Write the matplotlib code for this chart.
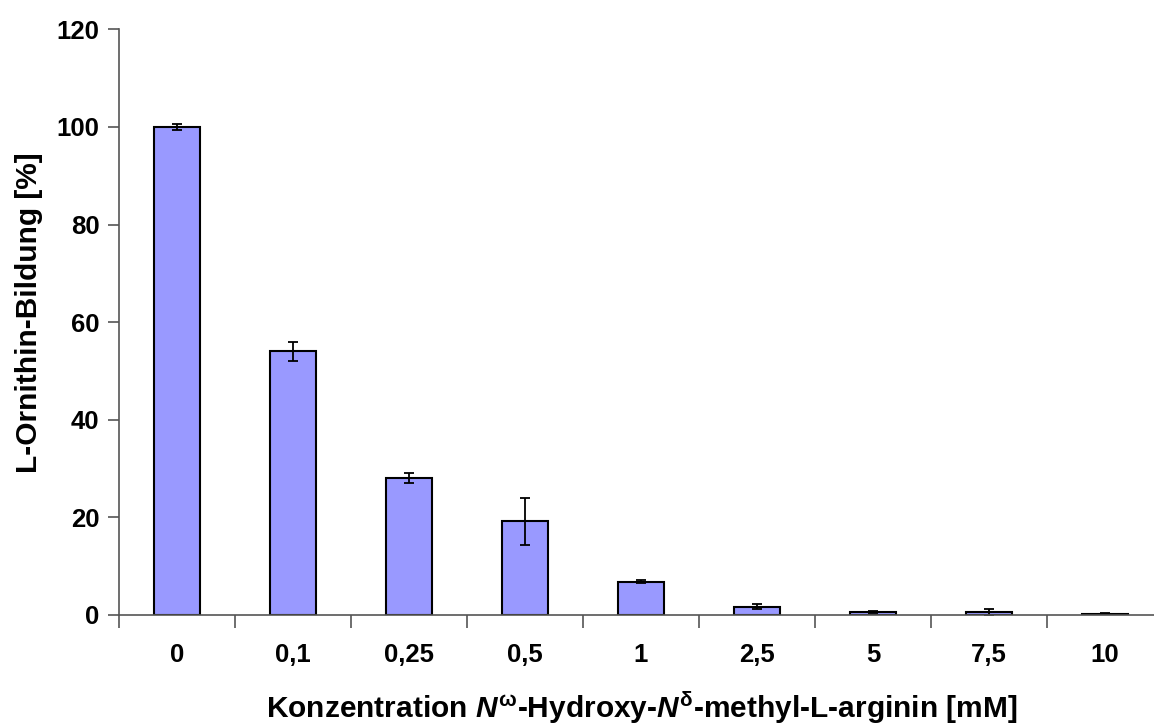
import numpy as np
import matplotlib.pyplot as plt

plt.rcParams['font.family'] = ['Liberation Sans', 'DejaVu Sans']
plt.rcParams['font.weight'] = 'bold'
plt.rcParams['mathtext.fontset'] = 'custom'
plt.rcParams['mathtext.it'] = 'Liberation Sans:italic:bold'
plt.rcParams['mathtext.bf'] = 'Liberation Sans:bold'
plt.rcParams['mathtext.rm'] = 'Liberation Sans:bold'

# concentrations [mM] and relative L-ornithine formation [%]
labels = ['0', '0,1', '0,25', '0,5', '1', '2,5', '5', '7,5', '10']
values = [100, 54, 28, 19.2, 6.8, 1.7, 0.65, 0.6, 0.3]
errors = [0.7, 2.0, 1.0, 4.85, 0.3, 0.5, 0.2, 0.7, 0.1]

fig = plt.figure(figsize=(11.54, 7.25), dpi=100)
# axes box in pixels: left 119, right 1163 (clipped by figure), bottom 615, top 29
W, H = 1154, 725
ax = fig.add_axes([119 / W, (H - 615) / H, (1163 - 119) / W, (615 - 29.4) / H])

x = np.arange(len(labels))
ax.bar(x, values, width=0.4, color='#9999FF', edgecolor='black', linewidth=1.5,
       yerr=errors, capsize=3.5, error_kw=dict(ecolor='black', elinewidth=1.3, capthick=1.3),
       zorder=2)

ax.set_xlim(-0.5, len(labels) - 0.5)
ax.set_ylim(0, 120)
ax.set_yticks(np.arange(0, 121, 20))

# ticks between categories, labels centred on categories
ax.set_xticks(np.arange(-0.5, len(labels), 1.0))
ax.set_xticklabels([])
ax.set_xticks(x, minor=True)
ax.set_xticklabels(labels, minor=True)
ax.tick_params(axis='x', which='major', length=9, width=1.2, color='#555555', direction='out')
ax.tick_params(axis='x', which='minor', length=0, pad=20, labelsize=18.5)
ax.tick_params(axis='y', length=8, width=1.2, color='#555555', labelsize=18.5, pad=6)

for s in ['top', 'right']:
    ax.spines[s].set_visible(False)
for s in ['left', 'bottom']:
    ax.spines[s].set_color('#555555')
    ax.spines[s].set_linewidth(1.2)

ax.set_ylabel('L-Ornithin-Bildung [%]', fontsize=21.5, fontweight='bold')
ax.yaxis.set_label_coords(-0.073, 0.516)
ax.set_xlabel(r'Konzentration $\mathit{N}^{\mathbf{\omega}}$-Hydroxy-$\mathit{N}^{\mathbf{\delta}}$-methyl-L-arginin [mM]',
              fontsize=21.5, fontweight='bold')
ax.xaxis.label.set_va('baseline')
ax.xaxis.set_label_coords(0.5005, -0.176)

fig.savefig('out.png', dpi=100)
